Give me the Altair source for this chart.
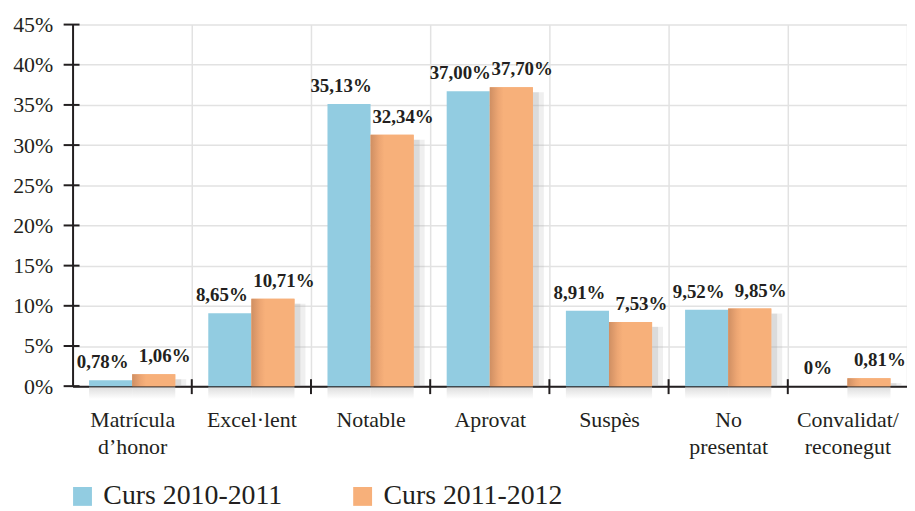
import altair as alt
import pandas as pd

cats = ["Matrícula d’honor", "Excel·lent", "Notable", "Aprovat", "Suspès",
        "No presentat", "Convalidat/ reconegut"]
series = ["Curs 2010-2011", "Curs 2011-2012"]
h1 = [0.74, 9.06, 35.1, 36.7, 9.4, 9.5, 0.0]
h2 = [1.48, 10.88, 31.28, 37.2, 8.0, 9.65, 0.99]
lab1 = ["0,78%", "8,65%", "35,13%", "37,00%", "8,91%", "9,52%", "0%"]
lab2 = ["1,06%", "10,71%", "32,34%", "37,70%", "7,53%", "9,85%", "0,81%"]
yticks = [0, 5, 10, 15, 20, 25, 30, 35, 40, 45]

rows = []
for i, c in enumerate(cats):
    rows.append({"cat": c, "series": series[0], "pct": h1[i], "label": lab1[i]})
    rows.append({"cat": c, "series": series[1], "pct": h2[i], "label": lab2[i]})
df = pd.DataFrame(rows)
tick_df = pd.DataFrame({"pct": yticks})
xtick_df = pd.DataFrame({"cat": cats[1:]})

FONT = "Liberation Serif"
INK = "#231f20"
GRID = "#e2e2e2"
BLUE = "#92cce1"
ORANGE = "#f7b07a"
W, H = 840, 364

xscale = alt.Scale(domain=cats, paddingInner=0, paddingOuter=0)
yscale = alt.Scale(domain=[0, 45], nice=False)
oscale = alt.Scale(domain=series, paddingInner=0, paddingOuter=0.383)

xaxis = alt.Axis(
    title=None, labelFont=FONT, labelFontSize=22, labelColor=INK, labelAngle=0,
    labelExpr="split(datum.label, ' ')", labelLineHeight=27, labelPadding=24,
    labelBaseline="top", ticks=False, domain=True, domainColor=INK, domainWidth=2,
    grid=True, gridColor=GRID, gridWidth=1.5, tickBand="extent")
yaxis = alt.Axis(
    title=None, values=yticks, labelExpr="datum.value + '%'", labelFont=FONT,
    labelFontSize=22, labelColor=INK, labelPadding=20, ticks=False,
    domain=True, domainColor=INK, domainWidth=2, grid=True, gridColor=GRID,
    gridWidth=1.5, minExtent=65, maxExtent=65)

X = alt.X("cat:N", scale=xscale, sort=cats, axis=xaxis, title=None)
Y = alt.Y("pct:Q", scale=yscale, axis=yaxis, title=None)
XO = alt.XOffset("series:N", sort=series, scale=oscale)

bottom_grad = alt.Gradient(
    gradient="linear", x1=0, x2=0, y1=0, y2=1,
    stops=[alt.GradientStop(offset=0, color="#cfcfcf"),
           alt.GradientStop(offset=1, color="#ffffff")])
orange_grad = alt.Gradient(
    gradient="linear", x1=0, x2=1, y1=0, y2=0,
    stops=[alt.GradientStop(offset=0, color="#cf8f63"),
           alt.GradientStop(offset=0.2, color="#eda673"),
           alt.GradientStop(offset=0.32, color=ORANGE),
           alt.GradientStop(offset=1, color=ORANGE)])

orange_only = alt.Chart(df).transform_filter(
    (alt.datum.series == series[1]) & (alt.datum.pct > 0))

shadow_layers = []
for bp, sw, op in [(0.8867, 6, 0.42), (0.9325, 5, 0.18)]:
    shadow_layers.append(orange_only.mark_rule(
        color="#a9a9a9", strokeWidth=sw, opacity=op, yOffset=5
    ).encode(
        x=alt.X("cat:N", scale=xscale, sort=cats, axis=xaxis, title=None, bandPosition=bp),
        y=Y, y2=alt.value(H),
    ))

shadow_bottom = alt.Chart(df).transform_filter(alt.datum.pct > 0).mark_bar(
    color=bottom_grad, opacity=0.7
).encode(x=X, xOffset=XO, y=alt.value(H + 1), y2=alt.value(H + 13))

bars = alt.Chart(df).mark_bar().encode(
    x=X, xOffset=XO, y=Y,
    color=alt.Color("series:N", sort=series,
                    scale=alt.Scale(domain=series, range=[BLUE, ORANGE]),
                    legend=alt.Legend(title=None, orient="none", legendX=-4, legendY=461,
                                      direction="horizontal", symbolType="square",
                                      symbolSize=361, symbolStrokeWidth=0,
                                      symbolOpacity=1, labelFont=FONT,
                                      labelFontSize=28, labelColor=INK, labelLimit=0,
                                      labelOffset=7, columnPadding=66, padding=0)),
)

orange_over = alt.Chart(df).transform_filter(alt.datum.series == series[1]).mark_bar(
    color=orange_grad
).encode(x=X, xOffset=XO, y=Y)

yt = alt.Chart(tick_df).mark_rule(color=INK, strokeWidth=2).encode(
    y=Y, x=alt.value(-9), x2=alt.value(7),
)

xt = alt.Chart(xtick_df).mark_rule(color=INK, strokeWidth=2).encode(
    x=alt.X("cat:N", scale=xscale, sort=cats, axis=xaxis, title=None, bandPosition=0),
    y=alt.value(H - 7), y2=alt.value(H + 8),
)

layers = [bars] + shadow_layers + [shadow_bottom, orange_over, yt, xt]
for s, dx in [(series[0], -8), (series[1], 11)]:
    layers.append(
        alt.Chart(df).transform_filter(alt.datum.series == s).mark_text(
            font=FONT, fontWeight=700, fontSize=19, color=INK, dx=dx, dy=-12,
            baseline="alphabetic", align="center",
        ).encode(x=X, xOffset=XO, y=Y, text="label:N")
    )

chart = alt.layer(*layers).properties(
    width=W, height=H,
    padding={"left": 0, "top": 4, "right": 0, "bottom": 0},
    background="white",
).configure_view(stroke=None)

chart.save("out.html", embed_options={"renderer": "svg", "actions": False})
